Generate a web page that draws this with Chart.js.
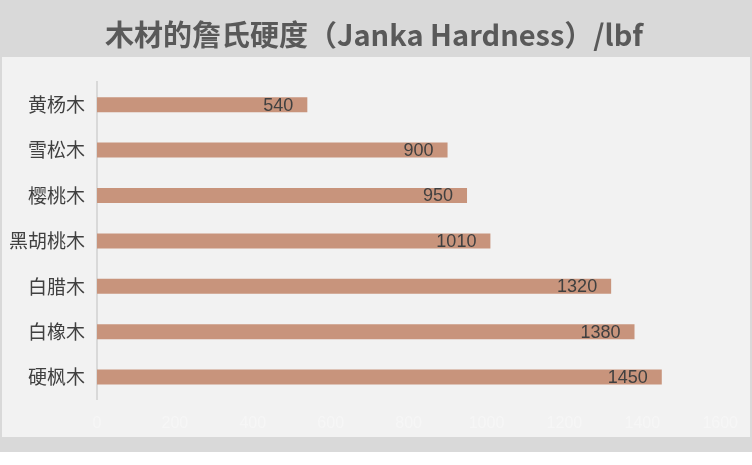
<!DOCTYPE html>
<html>
<head>
<meta charset="utf-8">
<script src="https://cdn.jsdelivr.net/npm/chart.js@4/dist/chart.umd.min.js"></script>
<style>
  html, body { margin: 0; padding: 0; background: #ffffff; }
  #wrap { width: 752px; height: 452px; position: relative; }
</style>
</head>
<body>
<div id="wrap"><canvas id="hardness"></canvas></div>
<script>
// Janka hardness per wood, lbf
const woods = ['黄杨木', '雪松木', '樱桃木', '黑胡桃木', '白腊木', '白橡木', '硬枫木'];
const hardness = [540, 900, 950, 1010, 1320, 1380, 1450];
const xMax = 1600;
const xStep = 200;
const chartTitle = '木材的詹氏硬度（Janka Hardness）/lbf';

const BAR_COLOR = '#c8947c';
const TEXT_COLOR = '#404040';
const LABEL_FONT = '"Liberation Sans", "Noto Sans CJK SC", sans-serif';

// gray frame, lighter panel and the title (centred on the whole canvas)
const panelBackground = {
    id: 'panelBackground',
    beforeDraw(chart) {
        const c = chart.ctx;
        c.save();
        c.fillStyle = '#d9d9d9';
        c.fillRect(0, 0, chart.width, chart.height);
        c.fillStyle = '#f2f2f2';
        c.fillRect(2, 57, chart.width - 4, 380);
        c.font = 'bold 29px "Noto Sans CJK SC", sans-serif';
        c.fillStyle = '#595959';
        c.textAlign = 'center';
        c.textBaseline = 'middle';
        c.fillText(chartTitle, 374, 35);
        c.restore();
    }
};

// value labels, right-aligned inside the bar end
const valueLabels = {
    id: 'valueLabels',
    afterDatasetsDraw(chart) {
        const c = chart.ctx;
        const meta = chart.getDatasetMeta(0);
        c.save();
        c.font = '18px ' + LABEL_FONT;
        c.fillStyle = TEXT_COLOR;
        c.textAlign = 'right';
        c.textBaseline = 'middle';
        meta.data.forEach((bar, i) => {
            c.fillText(String(hardness[i]), bar.x - 14, bar.y + 1);
        });
        c.restore();
    }
};

new Chart(document.getElementById('hardness'), {
    type: 'bar',
    data: {
        labels: woods,
        datasets: [{
            data: hardness,
            backgroundColor: BAR_COLOR,
            borderWidth: 0,
            barPercentage: 0.66,
            categoryPercentage: 0.5
        }]
    },
    options: {
        indexAxis: 'y',
        responsive: true,
        maintainAspectRatio: false,
        animation: false,
        layout: { padding: { left: 0, right: 26, top: 82, bottom: 5 } },
        scales: {
            x: {
                min: 0,
                max: xMax,
                grid: { display: false, drawTicks: false },
                border: { display: false },
                ticks: {
                    stepSize: xStep,
                    padding: 14,
                    color: '#f6f6f6',
                    font: { family: LABEL_FONT, size: 16 },
                    callback: v => String(v)
                }
            },
            y: {
                grid: { display: false, drawTicks: false },
                border: { display: true, color: '#d9d9d9', width: 2 },
                ticks: {
                    padding: 12,
                    color: TEXT_COLOR,
                    font: { family: '"Noto Sans CJK SC", sans-serif', size: 19 }
                },
                afterFit(scale) { scale.width = 97; }
            }
        },
        plugins: {
            legend: { display: false },
            tooltip: { enabled: false },
            title: { display: false }
        }
    },
    plugins: [panelBackground, valueLabels]
});
</script>
</body>
</html>
